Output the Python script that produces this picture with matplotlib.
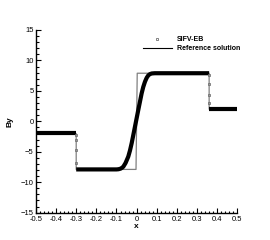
import numpy as np
import matplotlib.pyplot as plt
from matplotlib.lines import Line2D
from matplotlib.ticker import MultipleLocator

plt.rcParams['font.family'] = ['Liberation Sans', 'DejaVu Sans']

# Reference solution (exact Riemann solution)
x_ref = [-0.5, -0.3, -0.3, -0.003, 0.003, 0.36, 0.36, 0.5]
y_ref = [-2.0, -2.0, -7.9, -7.9, 7.9, 7.9, 2.0, 2.0]

# SIFV-EB numerical solution, smooth parts (dense points -> thick line)
x_left = [-0.5, -0.3]
y_left = [-2.0, -2.0]
x_mid = [-0.3, -0.1, -0.09, -0.08, -0.072, -0.066, -0.055, -0.0415, -0.033,
         -0.0246, -0.0082, 0.0082, 0.025, 0.033, 0.0414, 0.05, 0.058,
         0.066, 0.075, 0.09, 0.36]
y_mid = [-7.9, -7.9, -7.87, -7.78, -7.62, -7.45, -6.85, -5.8, -4.8,
         -3.6, -0.88, 1.86, 4.6, 5.65, 6.5, 7.15, 7.55,
         7.75, 7.86, 7.9, 7.9]
x_right = [0.36, 0.5]
y_right = [2.0, 2.0]

# SIFV-EB points sitting inside the two jumps
x_jump = [-0.3, -0.3, -0.3, -0.3, 0.36, 0.36, 0.36, 0.36]
y_jump = [-2.2, -3.05, -4.7, -6.9, 7.6, 6.1, 4.4, 2.96]

fig = plt.figure(figsize=(2.7, 2.4), dpi=100)
ax = fig.add_axes([0.133, 0.114, 0.746, 0.761])

ax.plot(x_ref, y_ref, color='#808080', lw=0.9, zorder=2)
for xs, ys in [(x_left, y_left), (x_mid, y_mid), (x_right, y_right)]:
    ax.plot(xs, ys, color='black', lw=3.0, solid_capstyle='butt',
            solid_joinstyle='round', zorder=3)
ax.plot(x_jump, y_jump, ls='none', marker='s', ms=1.8, mfc='none',
        mec='#707070', mew=0.6, zorder=4)

ax.set_xlim(-0.5, 0.5)
ax.set_ylim(-15, 15)
ax.xaxis.set_major_locator(MultipleLocator(0.1))
ax.xaxis.set_minor_locator(MultipleLocator(0.02))
ax.yaxis.set_major_locator(MultipleLocator(5))
ax.yaxis.set_minor_locator(MultipleLocator(1))
ax.tick_params(which='both', direction='in', labelsize=5.5, width=0.8)
ax.tick_params(axis='x', pad=2.2)
ax.tick_params(axis='y', pad=1.5)
ax.tick_params(which='major', length=3.5)
ax.tick_params(which='minor', length=1.8)
ax.spines['top'].set_visible(False)
ax.spines['right'].set_visible(False)
ax.spines['left'].set_linewidth(1.0)
ax.spines['bottom'].set_linewidth(1.0)
ax.set_xticklabels(['%g' % v for v in np.round(ax.get_xticks(), 1)])

ax.set_xlabel('x', fontsize=6, fontweight='bold', labelpad=0)
ax.set_ylabel('By', fontsize=6, fontweight='bold', labelpad=5)

handles = [Line2D([], [], ls='none', marker='s', ms=1.8, mfc='none',
                  mec='#707070', mew=0.6),
           Line2D([], [], color='black', lw=0.8)]
leg = ax.legend(handles, ['SIFV-EB', 'Reference solution'],
                loc='upper left', bbox_to_anchor=(0.5, 1.0), frameon=False,
                prop={'size': 5, 'weight': 'bold'}, handlelength=4.2,
                handletextpad=0.7, labelspacing=0.3)

fig.savefig('out.png', dpi=100)
